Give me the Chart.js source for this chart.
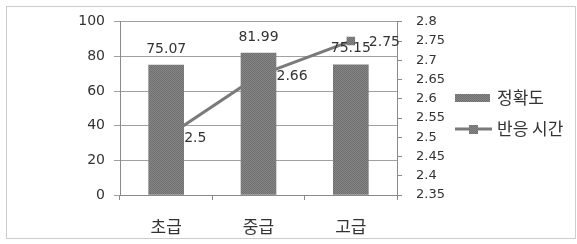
<!DOCTYPE html>
<html>
<head>
<meta charset="utf-8">
<script src="https://cdn.jsdelivr.net/npm/chart.js@4.4.0/dist/chart.umd.min.js"></script>
<style>
  html, body { margin: 0; padding: 0; background: #fff; }
  #wrap { width: 577px; height: 244px; }
</style>
</head>
<body>
<div id="wrap"><canvas id="chart" width="577" height="244"></canvas></div>
<script>
// chart data
const categories = ["초급", "중급", "고급"];
const accuracy = [75.07, 81.99, 75.15];
const reactionTime = [2.5, 2.66, 2.75];
const seriesNames = ["정확도", "반응 시간"];

const leftTickValues = [0, 20, 40, 60, 80, 100];
const rightTickValues = [2.35, 2.4, 2.45, 2.5, 2.55, 2.6, 2.65, 2.7, 2.75, 2.8];

const textColor = "#333";
const numFont = "DejaVu Sans";
const krFont = "'Noto Sans CJK KR'";

// dithered gray like the scanned bars
function makePattern() {
  const c = document.createElement("canvas");
  c.width = 2;
  c.height = 2;
  const g = c.getContext("2d");
  g.fillStyle = "#868686";
  g.fillRect(0, 0, 2, 2);
  g.fillStyle = "#707070";
  g.fillRect(0, 0, 1, 1);
  g.fillRect(1, 1, 1, 1);
  return g.createPattern(c, "repeat");
}
const barFill = makePattern();

// value labels, legend and frame
const extras = {
  id: "extras",
  afterDraw(chart) {
    const ctx = chart.ctx;
    ctx.save();

    // dotted outer frame
    ctx.strokeStyle = "#9a9a9a";
    ctx.lineWidth = 1;
    ctx.setLineDash([1, 1]);
    ctx.strokeRect(6.5, 6.5, 569, 232);
    ctx.setLineDash([]);

    ctx.fillStyle = textColor;
    ctx.font = "14px " + numFont;
    ctx.textBaseline = "middle";

    // bar labels
    ctx.textAlign = "center";
    chart.getDatasetMeta(0).data.forEach((bar, i) => {
      ctx.fillText(accuracy[i].toFixed(2), bar.x, bar.y - 16);
    });

    // line labels
    ctx.textAlign = "left";
    chart.getDatasetMeta(1).data.forEach((pt, i) => {
      ctx.fillText(String(reactionTime[i]), pt.x + 18, pt.y + 1);
    });

    // legend
    const lx = 455;
    ctx.fillStyle = barFill;
    ctx.fillRect(lx, 94, 35, 8);
    ctx.strokeStyle = "#7a7a7a";
    ctx.lineWidth = 3;
    ctx.beginPath();
    ctx.moveTo(lx, 129);
    ctx.lineTo(lx + 37, 129);
    ctx.stroke();
    ctx.fillStyle = barFill;
    ctx.fillRect(lx + 14, 125, 9, 9);

    ctx.fillStyle = textColor;
    ctx.font = "17px " + krFont;
    ctx.fillText(chart.data.datasets[0].label, 497, 98);
    ctx.fillText(chart.data.datasets[1].label, 497, 129);

    ctx.restore();
  }
};

const context = document.getElementById("chart").getContext("2d");
const comboChart = new Chart(context, {
  data: {
    labels: categories,
    datasets: [
      {
        type: "bar",
        label: seriesNames[0],
        data: accuracy,
        backgroundColor: barFill,
        yAxisID: "y",
        barThickness: 35,
        order: 0
      },
      {
        type: "line",
        label: seriesNames[1],
        data: reactionTime,
        borderColor: "#7a7a7a",
        borderWidth: 3,
        backgroundColor: barFill,
        pointStyle: "rect",
        pointRadius: 6,
        pointBorderWidth: 0,
        yAxisID: "y1",
        order: 1
      }
    ]
  },
  options: {
    responsive: false,
    animation: false,
    layout: { padding: { top: 19, right: 0, bottom: 0, left: 0 } },
    plugins: {
      legend: { display: false },
      tooltip: { enabled: false }
    },
    scales: {
      x: {
        afterFit: (s) => { s.height = 49; },
        grid: { offset: true, drawOnChartArea: false, color: "#8a8a8a", tickLength: 5 },
        border: { color: "#8a8a8a" },
        ticks: { color: textColor, font: { family: krFont, size: 17 }, padding: 16 }
      },
      y: {
        position: "left",
        min: leftTickValues[0],
        max: leftTickValues[leftTickValues.length - 1],
        afterFit: (s) => { s.width = 120; },
        afterBuildTicks: (s) => { s.ticks = leftTickValues.map((v) => ({ value: v })); },
        grid: { color: "#a0a0a0", tickLength: 6 },
        border: { color: "#8a8a8a" },
        ticks: {
          autoSkip: false,
          color: textColor,
          font: { family: numFont, size: 14 },
          padding: 9
        }
      },
      y1: {
        position: "right",
        min: rightTickValues[0],
        max: rightTickValues[rightTickValues.length - 1],
        afterFit: (s) => { s.width = 180; },
        afterBuildTicks: (s) => { s.ticks = rightTickValues.map((v) => ({ value: v })); },
        grid: { drawOnChartArea: false, color: "#8a8a8a", tickLength: 5 },
        border: { color: "#8a8a8a" },
        ticks: {
          autoSkip: false,
          color: textColor,
          font: { family: numFont, size: 13 },
          padding: 14,
          callback: (v) => String(+v.toFixed(2))
        }
      }
    }
  },
  plugins: [extras]
});
</script>
</body>
</html>
